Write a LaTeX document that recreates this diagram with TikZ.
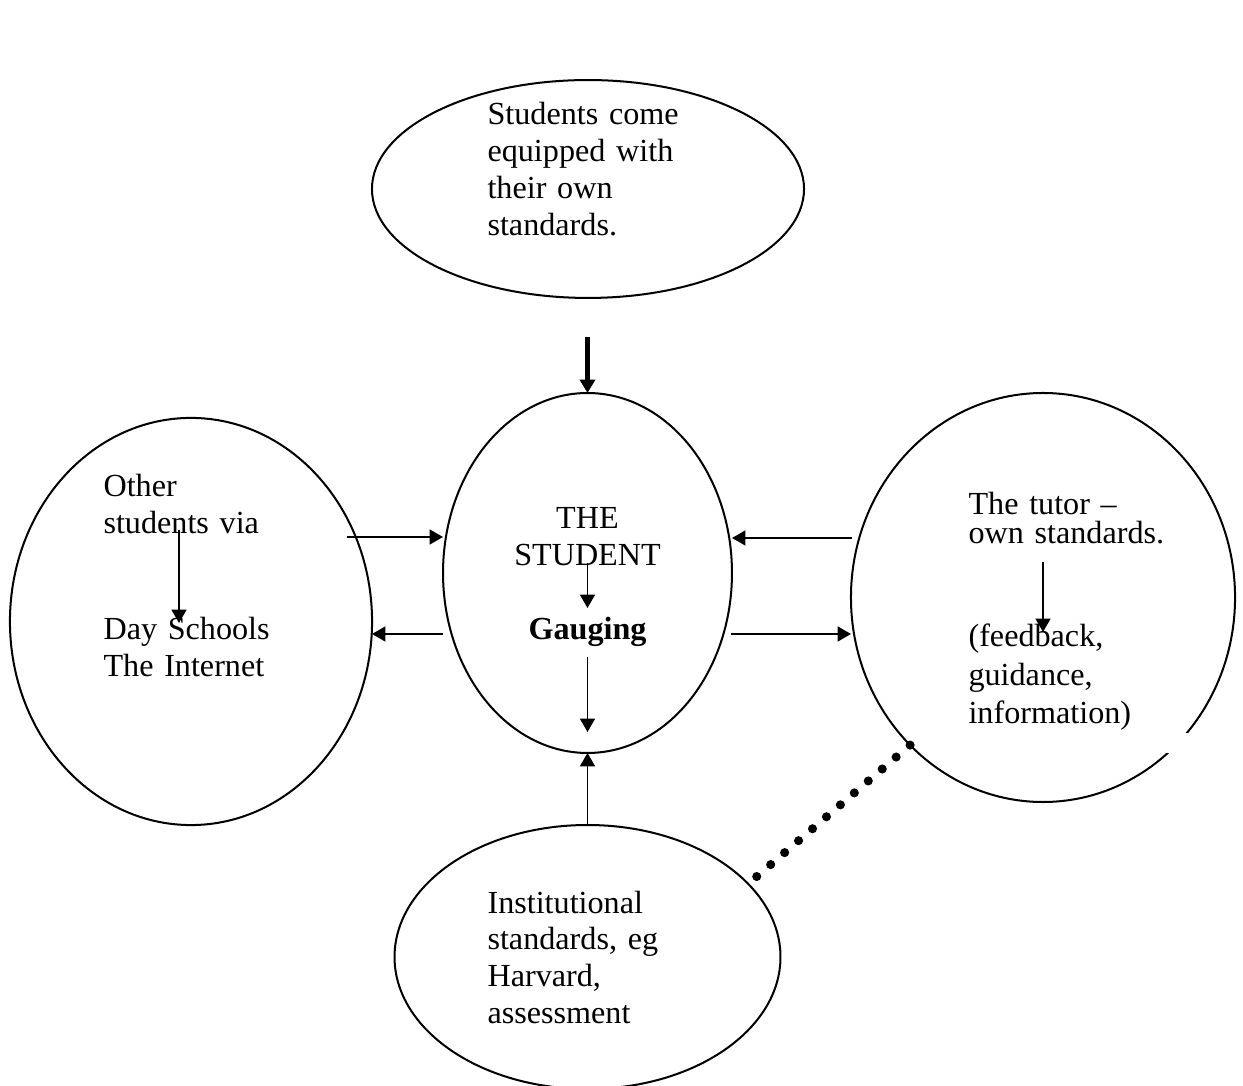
\documentclass[tikz,border=0pt]{standalone}
\usepackage{fontspec}
\setmainfont{Liberation Serif}
\usetikzlibrary{positioning,shapes.geometric,arrows.meta}

\begin{document}
\begin{tikzpicture}
[x=0.3731pt, y=-0.3731pt,
>={Triangle[length=5pt,width=5.6pt]},
% The bubble style is used for the five ellipses
bubble/.style={ellipse, draw, line width=0.75pt, inner sep=0pt, outer sep=0pt},
% The txt style is used for the texts written in the ellipses
txt/.style={inner sep=0pt, anchor=base west, text width=130pt, align=left, font=\fontsize{12}{13.7}\selectfont},
% The flow style is used for the thin arrows
flow/.style={->, line width=0.6pt}
]
\clip (0,0) rectangle (1243,1086);
% Draw ellipses
\node[bubble, minimum width=161.2pt, minimum height=81.3pt] (intro) at (588,189) {};
\node[bubble, minimum width=107.8pt, minimum height=134.3pt] (student) at (587.5,573) {};
\node[bubble, minimum width=135.1pt, minimum height=151.9pt] (peers) at (191,621.5) {};
\node[bubble, minimum width=143.3pt, minimum height=152.6pt] (tutor) at (1043,597.5) {};
\node[bubble, minimum width=144.0pt, minimum height=98.5pt] (institution) at (587.5,957) {};
\fill[white] (1160,733) rectangle (1200,753.5);
% Draw texts
\node[txt] (introtext) at (487,125) {Students come\\equipped with\\their own\\standards.};
\node[txt] (peersA) at (103,497) {Other\\students via};
\node[txt] (peersB) at (103,640) {Day Schools\\The Internet};
\node[txt, anchor=base, align=center] (studentA) at (587.5,529) {THE\\STUDENT};
\node[txt, anchor=base, align=center] (gauge) at (587.5,640) {\textbf{Gauging}};
\node[txt, font=\fontsize{12}{10.5}\selectfont] (tutorA) at (968,515) {The tutor --\\own standards.};
\node[txt, font=\fontsize{12}{14.2}\selectfont] (tutorB) at (968,647) {(feedback,\\guidance,\\information)};
\node[txt] (insttext) at (487,913) {Institutional\\standards, eg\\Harvard,\\assessment};
% Arrow ends
\coordinate (src) at (587.5,337);
\coordinate (s1) at (587.5,563); \coordinate (s2) at (587.5,608);
\coordinate (s3) at (587.5,657); \coordinate (s4) at (587.5,732);
\coordinate (a1) at (347,537); \coordinate (a2) at (443,537);
\coordinate (b1) at (443,634); \coordinate (b2) at (372,634);
\coordinate (c1) at (852,538); \coordinate (c2) at (732,538);
\coordinate (d1) at (731,634); \coordinate (d2) at (851,634);
\coordinate (e1) at (179,530); \coordinate (e2) at (179,623);
\coordinate (f1) at (1043,562); \coordinate (f2) at (1043,632);
\coordinate (dotend) at (755,878);
% Draw arrows
\draw[->, line width=1.5pt] (src) -- (student.north);
\draw[flow] (s1) -- (s2);
\draw[flow] (s3) -- (s4);
\draw[flow] (institution.north) -- (student.south);
\draw[flow] (a1) -- (a2);
\draw[flow] (b1) -- (b2);
\draw[flow] (c1) -- (c2);
\draw[flow] (d1) -- (d2);
\draw[flow] (e1) -- (e2);
\draw[flow] (f1) -- (f2);
\draw[line width=3.4pt, line cap=round, dash pattern=on 0pt off 6.85pt] (tutor.228) -- (dotend);
\end{tikzpicture}
\end{document}
